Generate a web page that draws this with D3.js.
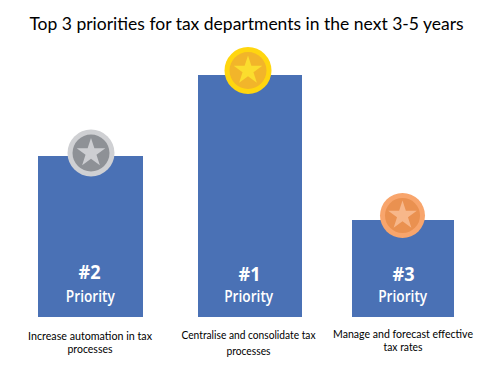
<!DOCTYPE html>
<html>
<head>
<meta charset="utf-8">
<script src="https://cdn.jsdelivr.net/npm/d3@7"></script>
<style>
  html, body { margin: 0; padding: 0; background: #fff; }
  svg { display: block; font-family: Lato, "Open Sans", sans-serif; }
  .rank, .priority { font-family: "Open Sans", sans-serif; }
</style>
</head>
<body>
<div id="chart"></div>
<script>
const ranks = ['#2', '#1', '#3'];
// relative heights, the source prints no numbers
const values = [161, 242, 97];
const labels = [
    ['Increase automation in tax', 'processes'],
    ['Centralise and consolidate tax', 'processes'],
    ['Manage and forecast effective', 'tax rates']
];
const ringColors = ['#cfd0d3', '#ffd60f', '#f8a56c'];
const discColors = ['#8e9196', '#f2b52a', '#ea9150'];
const starColors = ['#cdced2', '#fbdd2e', '#f7b78a'];

const width = 501;
const height = 370;
const baseline = 317;

const svg = d3.select('#chart')
    .append('svg')
    .attr('width', width)
    .attr('height', height);

// columns were placed by hand in the original, so not an even band
const xCenter = d3.scaleOrdinal().domain(ranks).range([90.5, 250, 403]);
const barWidth = d3.scaleOrdinal().domain(ranks).range([105, 104, 102]);
const labelCenter = d3.scaleOrdinal().domain(ranks).range([90, 248.5, 403]);
const labelY = d3.scaleOrdinal().domain(ranks).range([[340, 353], [338.5, 354.5], [338, 351]]);
const labelWidths = d3.scaleOrdinal().domain(ranks).range([[124, 45], [134, 44], [140, 39]]);
const medalDx = d3.scaleOrdinal().domain(ranks).range([0.5, -2, -0.5]);
const medalDy = d3.scaleOrdinal().domain(ranks).range([-3, -4.5, -4.5]);
const medalR = d3.scaleOrdinal().domain(ranks).range([23.5, 23.5, 22.5]);
const rankX = d3.scaleOrdinal().domain(ranks).range([89.5, 249.5, 403.5]);
const rankY = d3.scaleOrdinal().domain(ranks).range([279, 281, 281]);
const priorityX = d3.scaleOrdinal().domain(ranks).range([90.3, 248.7, 402.7]);
const y = d3.scaleLinear().domain([0, 242]).range([baseline, 75]);

const rows = ranks.map((rank, i) => ({
    rank,
    value: values[i],
    label: labels[i],
    ring: ringColors[i],
    disc: discColors[i],
    star: starColors[i]
}));

svg.append('text')
    .attr('x', 246.5)
    .attr('y', 30)
    .attr('text-anchor', 'middle')
    .attr('font-size', '17.5px')
    .attr('fill', '#000')
    .text('Top 3 priorities for tax departments in the next 3-5 years');

svg.selectAll('.bar')
    .data(rows)
    .enter()
    .append('rect')
    .attr('class', 'bar')
    .attr('x', d => xCenter(d.rank) - barWidth(d.rank) / 2)
    .attr('y', d => y(d.value))
    .attr('width', d => barWidth(d.rank))
    .attr('height', d => baseline - y(d.value))
    .attr('fill', '#4a71b5');

const medals = svg.selectAll('.medal')
    .data(rows)
    .enter()
    .append('g')
    .attr('class', 'medal')
    .attr('transform', d => `translate(${xCenter(d.rank) + medalDx(d.rank)},${y(d.value) + medalDy(d.rank)})`);

medals.append('circle')
    .attr('r', d => medalR(d.rank))
    .attr('fill', d => d.ring);

medals.append('circle')
    .attr('r', d => medalR(d.rank) - 5)
    .attr('fill', d => d.disc);

medals.append('path')
    .attr('d', d3.symbol(d3.symbolStar, 255))
    .attr('fill', d => d.star);

svg.selectAll('.rank')
    .data(rows)
    .enter()
    .append('text')
    .attr('class', 'rank')
    .attr('x', d => rankX(d.rank))
    .attr('y', d => rankY(d.rank))
    .attr('text-anchor', 'middle')
    .attr('font-size', '19px')
    .attr('font-weight', 700)
    .attr('fill', '#fff')
    .attr('textLength', 22)
    .attr('lengthAdjust', 'spacingAndGlyphs')
    .text(d => d.rank);

svg.selectAll('.priority')
    .data(rows)
    .enter()
    .append('text')
    .attr('class', 'priority')
    .attr('x', d => priorityX(d.rank))
    .attr('y', 302)
    .attr('text-anchor', 'middle')
    .attr('font-size', '15.5px')
    .attr('font-weight', 600)
    .attr('fill', '#fff')
    .attr('textLength', 49)
    .attr('lengthAdjust', 'spacingAndGlyphs')
    .text('Priority');

rows.forEach(d => {
    d.label.forEach((line, i) => {
        svg.append('text')
            .attr('x', labelCenter(d.rank))
            .attr('y', labelY(d.rank)[i])
            .attr('text-anchor', 'middle')
            .attr('font-size', '11px')
            .attr('fill', '#000')
            .attr('textLength', labelWidths(d.rank)[i])
            .attr('lengthAdjust', 'spacingAndGlyphs')
            .text(line);
    });
});
</script>
</body>
</html>
